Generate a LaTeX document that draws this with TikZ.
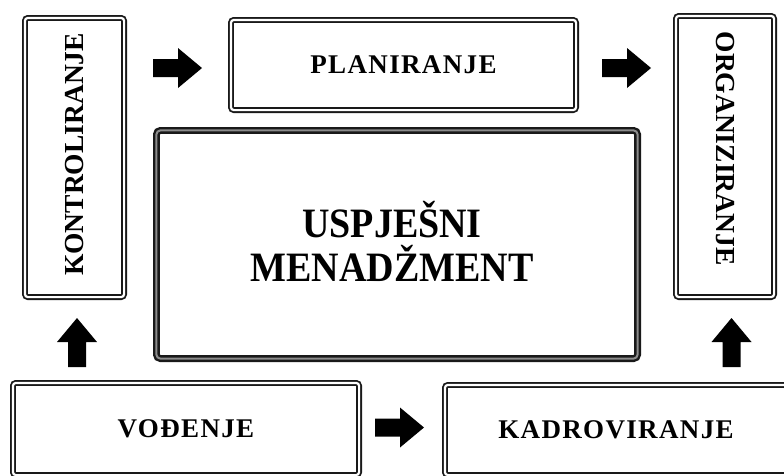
\documentclass[tikz,border=0pt]{standalone}
\usepackage{fontspec}
\setmainfont{Liberation Serif}
\begin{document}
\begin{tikzpicture}[x=1pt,y=-1pt,
  label/.style={font=\bfseries\fontsize{27.5}{30}\selectfont},
  spaced/.style={font=\addfontfeature{LetterSpace=5}\bfseries\fontsize{27}{30}\selectfont},
  framebox/.style={draw=black!90, line width=1.8pt, double=white, double distance=2.2pt,
    rounded corners=3pt, inner sep=0pt},
  corebox/.style={draw=black!90, line width=2.4pt, double=black!45, double distance=2pt,
    rounded corners=4pt, inner sep=0pt},
  blockarrow/.pic={\fill[black] (0,-9) -- (25,-9) -- (25,-20) -- (49,0) -- (25,20) -- (25,9) -- (0,9) -- cycle;}
]
\useasboundingbox (0,0) rectangle (784,475);
\fill[white] (0,0) rectangle (784,475);

% frames around the six functions
\node[framebox, minimum width=99.2pt, minimum height=279.2pt] (kontrol) at (74.5,157.5) {};
\node[framebox, minimum width=345.2pt, minimum height=90.2pt] (plan) at (403.5,65) {};
\node[framebox, minimum width=98.2pt, minimum height=281.2pt] (organ) at (725,156.5) {};
\node[framebox, minimum width=346.2pt, minimum height=92.2pt] (vod) at (186,429) {};
\node[framebox, minimum width=342.2pt, minimum height=90.2pt] (kadr) at (616,430) {};
\node[corebox, minimum width=481.2pt, minimum height=228.2pt] (core) at (397,244.5) {};

% labels (shifts are in page units: positive yshift moves up)
\node[label, rotate=90] (tkontrol) at ([yshift=3pt]kontrol.center) {KONTROLIRANJE};
\node[spaced] (tplan) at (plan.center) {PLANIRANJE};
\node[label, rotate=-90] (torgan) at ([yshift=8pt]organ.center) {ORGANIZIRANJE};
\node[spaced] (tvod) at (vod.center) {VOĐENJE};
\node[spaced] (tkadr) at (kadr.center) {KADROVIRANJE};
\node[font=\bfseries\fontsize{38}{40}\selectfont, align=center, yscale=1.1] (tcore) at ([xshift=-5pt,yshift=3pt]core.center) {USPJEŠNI\\MENADŽMENT};

% block arrows showing the cycle
\pic at (153,68) {blockarrow};
\pic at (602,68) {blockarrow};
\pic at (375,427.5) {blockarrow};
\pic[rotate=90] at (77,367) {blockarrow};
\pic[rotate=90] at (731.5,367) {blockarrow};
\end{tikzpicture}
\end{document}
